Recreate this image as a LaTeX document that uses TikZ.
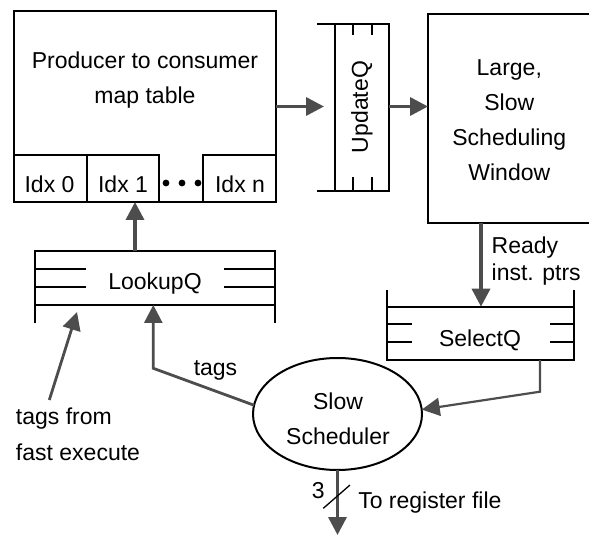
\documentclass[tikz,border=0pt]{standalone}
\usepackage{fontspec}
\setmainfont{Liberation Sans}
\usetikzlibrary{arrows.meta,shapes.geometric}
\definecolor{arrowgray}{RGB}{77,77,77}
\begin{document}
\begin{tikzpicture}[x=1pt,y=-1pt,
  box/.style={draw,line width=2pt,inner sep=0pt,outer sep=0pt},
  area/.style={inner sep=0pt,outer sep=0pt},
  qline/.style={line width=2pt},
  txt/.style={font=\fontsize{23}{35}\selectfont,inner sep=0pt,outer sep=0pt,align=center},
  flow/.style={draw=arrowgray,line width=3.5pt,-{Triangle[length=18pt,width=18pt]}},
  midflow/.style={draw=arrowgray,line width=2.8pt,-{Triangle[length=18pt,width=18pt]}},
  thinflow/.style={draw=arrowgray,line width=2.2pt,-{Triangle[length=18pt,width=18pt]}},
]
\useasboundingbox (0,0) rectangle (589,537);

% producer to consumer map table
\node[box,minimum width=262pt,minimum height=191pt] (map) at (145,106.5) {};
\node[txt] (maptxt) at (145,80) {Producer to consumer\\map table};
\node[box,minimum width=73pt,minimum height=47pt] (idx0) at (50.5,178.5) {};
\node[box,minimum width=72pt,minimum height=47pt] (idx1) at (123,178.5) {};
\node[box,minimum width=73pt,minimum height=47pt] (idxn) at (239.5,178.5) {};
\node[txt,anchor=base] (l0) at (49.5,192.7) {Idx 0};
\node[txt,anchor=base] (l1) at (123,192.7) {Idx 1};
\node[txt,anchor=base] (ln) at (240,192.7) {Idx n};
\fill (166,183) circle (3.4pt) (182,183) circle (3.4pt) (198,183) circle (3.4pt);

% UpdateQ
\node[area,minimum width=54pt,minimum height=167pt] (uq) at (362,107.5) {};
\draw[qline] (317,24) -- (389,24) -- (389,191) -- (317,191) (335,24) -- (335,191);
\draw[qline] (353.3,24) -- (353.3,35) (371.7,24) -- (371.7,35)
             (353.3,177) -- (353.3,191) (371.7,177) -- (371.7,191);
\node[txt,rotate=90] (uqtxt) at (362,107) {UpdateQ};

% window
\node[box,minimum width=180pt,minimum height=209pt] (win) at (518,118.5) {};
\node[txt] (wintxt) at (509.3,120.3) {Large,\\Slow\\Scheduling\\Window};

% LookupQ
\node[area,minimum width=240pt,minimum height=54.3pt] (lq) at (155,277.85) {};
\draw[qline] (35,323.3) -- (35,250.7) -- (275,250.7) -- (275,323.3) (35,305) -- (275,305);
\draw[qline] (35,269) -- (86,269) (35,286.7) -- (86,286.7)
             (224,269) -- (275,269) (224,286.7) -- (275,286.7);
\node[txt,anchor=base] (lqtxt) at (155,289.3) {LookupQ};

% SelectQ
\node[area,minimum width=187pt,minimum height=53.3pt] (sq) at (480.8,333.35) {};
\draw[qline] (387.3,290) -- (387.3,360) -- (574.3,360) -- (574.3,290) (387.3,306.7) -- (574.3,306.7);
\draw[qline] (387.3,324.3) -- (411.7,324.3) (387.3,342.3) -- (411.7,342.3)
             (550,324.3) -- (574.3,324.3) (550,342.3) -- (574.3,342.3);
\node[txt,anchor=base] (sqtxt) at (480,346.7) {SelectQ};

% slow scheduler
\node[draw,line width=2pt,ellipse,minimum width=169pt,minimum height=112pt,inner sep=0pt,outer sep=0pt] (sched) at (337.5,414) {};
\node[txt] (schedtxt) at (338,418.4) {Slow\\Scheduler};

% connectors
\coordinate (uqin) at (324,107);
\draw[flow] (map.east) -- (map.east -| uqin);
\draw[flow] (uq.east |- map.east) -- (win.west |- map.east);
\coordinate (lqin) at (135,250.7);
\draw[flow] (lqin) -- (lqin |- idx1.south);
\coordinate (rdy) at (481,0);
\draw[flow] (win.south -| rdy) -- (sq.north -| rdy);
\node[txt,align=left,anchor=west,font=\fontsize{23}{27.7}\selectfont] (rdytxt) at (491.7,261.2) {Ready\\inst. ptrs};
\coordinate (sqbend) at (540,391.7);
\draw[thinflow] (sq.south -| sqbend) -- (sqbend) -- (sched.3);
\coordinate (tagbend) at (153.3,368.3);
\draw[midflow] (sched.174) -- (tagbend) -- (tagbend |- lq.south);
\node[txt,anchor=base] (tagstxt) at (215.5,375) {tags};
\node[txt,align=left,anchor=west,font=\fontsize{23}{36}\selectfont] (fast) at (16,434.6) {tags from\\fast execute};
\coordinate (fastsrc) at (49.3,400);
\coordinate (fasttip) at (77,312);
\draw[midflow] (fastsrc) -- (fasttip);
\coordinate (rf) at (337.5,535);
\draw[flow] (sched.south) -- (rf);
\coordinate (slashA) at (323.3,508.3);
\coordinate (slashB) at (350,485);
\draw[line width=1.3pt] (slashA) -- (slashB);
\node[txt,anchor=base] (three) at (318.3,498.3) {3};
\node[txt,anchor=base west] (rftxt) at (358.3,508.3) {To register file};
\end{tikzpicture}
\end{document}
